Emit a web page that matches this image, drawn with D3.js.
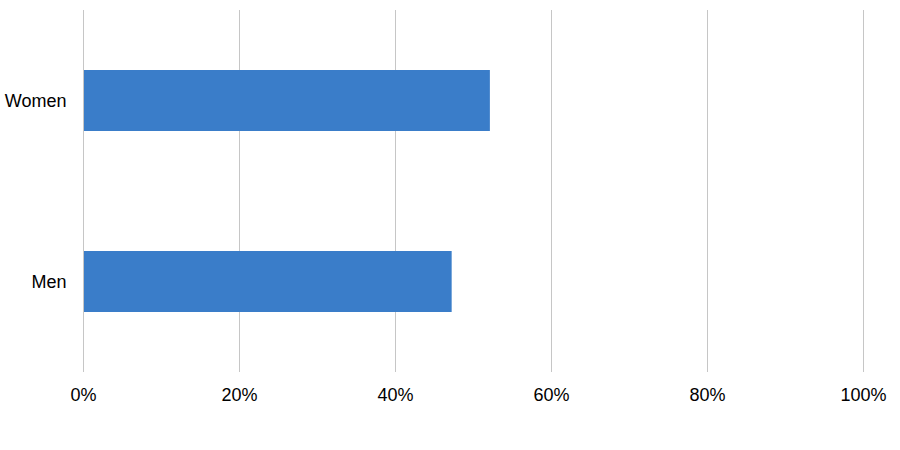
<!DOCTYPE html>
<html><head><meta charset="utf-8">
<script src="https://cdn.jsdelivr.net/npm/d3@7"></script>
<style>body{margin:0;background:#fff}svg{display:block}</style>
</head><body>
<svg id="c" width="900" height="450"></svg>
<script>
const categories = ["Women", "Men"];
const values = [52.1, 47.2];
const ticks = [0, 20, 40, 60, 80, 100];

const svg = d3.select("#c");
const x = d3.scaleLinear().domain([0, 100]).range([83.5, 863.5]);
const y = d3.scaleBand().domain(categories).range([10, 372]);
const barH = y.bandwidth() * 0.337;

svg.append("g").selectAll("line").data(ticks).join("line")
  .attr("x1", d => x(d)).attr("x2", d => x(d))
  .attr("y1", 10).attr("y2", 372)
  .attr("stroke", "#c6c6c6").attr("stroke-width", 1);

svg.append("g").selectAll("rect").data(categories).join("rect")
  .attr("x", x(0) + 0.5)
  .attr("y", d => y(d) + y.bandwidth() / 2 - barH / 2)
  .attr("width", (d, i) => x(values[i]) - x(0) - 0.5)
  .attr("height", barH)
  .attr("fill", "#3a7dc9");

svg.append("g").selectAll("text").data(ticks).join("text")
  .attr("x", d => x(d)).attr("y", 401)
  .attr("text-anchor", "middle")
  .attr("font-family", "Liberation Sans, Arial, sans-serif")
  .attr("font-size", 18).attr("fill", "#000")
  .text(d => d + "%");

svg.append("g").selectAll("text").data(categories).join("text")
  .attr("x", 66.5).attr("y", d => y(d) + y.bandwidth() / 2 + 6)
  .attr("text-anchor", "end")
  .attr("font-family", "Liberation Sans, Arial, sans-serif")
  .attr("font-size", 18).attr("fill", "#000")
  .text(d => d);
</script>
</body></html>
